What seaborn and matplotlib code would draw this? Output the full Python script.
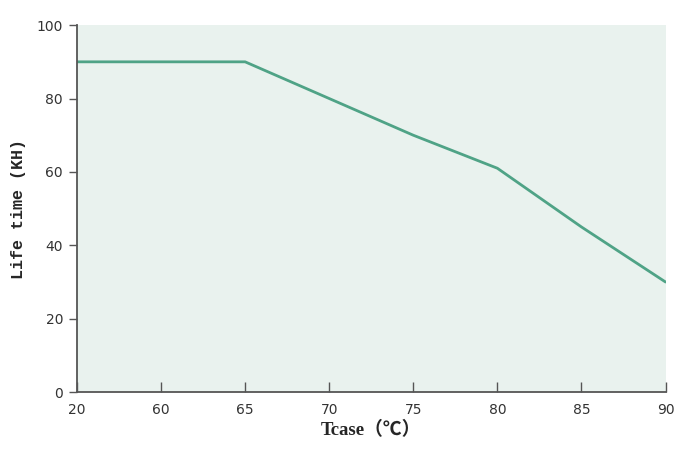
import pandas as pd
import seaborn as sns
import matplotlib.pyplot as plt

# Tcase categories (equally spaced on the axis) and life time in KH
tcase = ['20', '60', '65', '70', '75', '80', '85', '90']
life_kh = [90, 90, 90, 80, 70, 61, 45, 30]
y_ticks = [0, 20, 40, 60, 80, 100]

df = pd.DataFrame({'tcase': tcase, 'life': life_kh})

sns.set_style('ticks')
plt.rcParams['font.family'] = ['DejaVu Sans', 'Noto Sans CJK SC']

fig = plt.figure(figsize=(6.75, 4.57), dpi=100)
ax = fig.add_axes([0.114, 0.142, 0.872, 0.803])
ax.set_facecolor('#e9f2ee')

sns.lineplot(data=df, x='tcase', y='life', sort=False, color='#4fa386',
             linewidth=2, ax=ax)

ax.set_xlim(0, len(tcase) - 1)
ax.set_ylim(0, 100)
ax.set_yticks(y_ticks)

for s in ['top', 'right']:
    ax.spines[s].set_visible(False)
for s in ['left', 'bottom']:
    ax.spines[s].set_color('#555555')
    ax.spines[s].set_linewidth(1.3)

ax.tick_params(axis='x', direction='in', length=7, width=1, colors='#555555',
               labelcolor='#333333', labelsize=10, pad=8)
ax.tick_params(axis='y', direction='out', length=6, width=1, colors='#555555',
               labelcolor='#333333', labelsize=10, pad=4)

ax.set_xlabel('Tcase（℃）', fontsize=13.5, fontweight='bold',
              family=['Liberation Serif', 'Noto Sans CJK SC'], labelpad=3)
ax.set_ylabel('Life time (KH)', fontsize=12, fontweight='bold',
              family=['Liberation Mono', 'Noto Sans CJK SC'], labelpad=8)

plt.savefig('out.png', dpi=100)
plt.close()
